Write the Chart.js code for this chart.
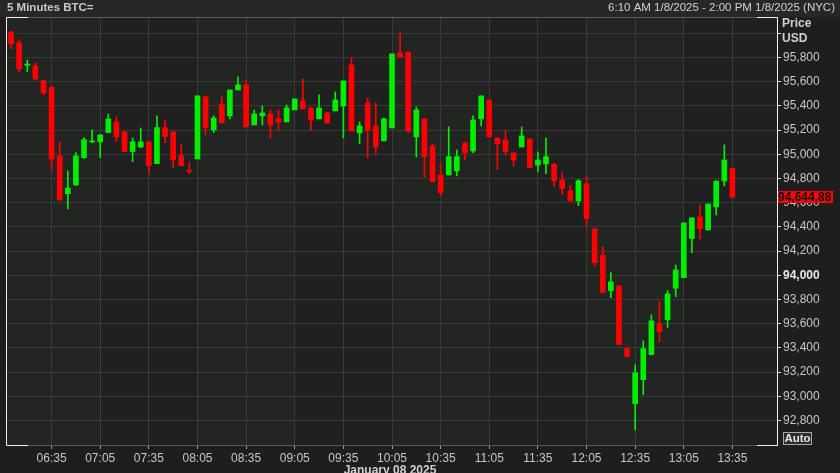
<!DOCTYPE html>
<html>
<head>
<meta charset="utf-8">
<title>5 Minutes BTC=</title>
<script src="https://cdn.jsdelivr.net/npm/chart.js@4.4.1/dist/chart.umd.min.js"></script>
<style>
  html, body { margin: 0; padding: 0; background: #1e1e1e; }
  canvas { display: block; }
</style>
</head>
<body>
<canvas id="btcChart" width="840" height="473"></canvas>
<script>
/*
*/
const startTime = '06:10';
const stepMinutes = 5;
const opens = [
  96008, 95922, 95735, 95730, 95606, 95554, 94986, 94674, 94746, 94972,
  95102, 95102, 95179, 95267, 95184, 95022, 95060, 95102, 94922, 95220,
  95184, 94989, 94868, 94961, 95474, 95201, 95416, 95317, 95531, 95573,
  95242, 95317, 95333, 95292, 95267, 95366, 95441, 95383, 95292, 95341,
  95358, 95399, 95738, 95176, 95424, 95234, 95110, 95217, 95837, 95845,
  95143, 95292, 95069, 94829, 94829, 94862, 95093, 95027, 95292, 95449,
  95135, 95118, 95011, 95060, 95127, 94911, 94920, 94917, 94788, 94697,
  94614, 94757, 94383, 94168, 93873, 93912, 93394, 92939, 93137, 93344,
  93598, 93633, 93893, 93980, 94303, 94482, 94374, 94564, 94779, 94884
];
const highs = [
  96015, 95945, 95779, 95755, 95612, 95560, 95102, 94862, 95013, 95137,
  95201, 95160, 95333, 95308, 95190, 95135, 95217, 95105, 95317, 95283,
  95190, 95085, 94931, 95482, 95480, 95317, 95482, 95531, 95639, 95614,
  95366, 95399, 95366, 95366, 95407, 95457, 95622, 95383, 95490, 95345,
  95515, 95606, 95796, 95267, 95465, 95424, 95300, 95829, 96002, 95845,
  95391, 95292, 95085, 94922, 95226, 95036, 95102, 95317, 95482, 95449,
  95135, 95193, 95011, 95226, 95127, 95019, 95135, 94926, 94848, 94746,
  94790, 94823, 94383, 94236, 94022, 93912, 93402, 93259, 93457, 93672,
  93782, 93873, 94085, 94432, 94474, 94581, 94589, 94779, 95077, 94884
];
const lows = [
  95870, 95683, 95683, 95614, 95490, 94876, 94620, 94548, 94740, 94965,
  95093, 94972, 95179, 95104, 95022, 94939, 95054, 94840, 94922, 95096,
  94889, 94906, 94840, 94961, 95160, 95179, 95259, 95292, 95531, 95226,
  95242, 95242, 95137, 95201, 95267, 95366, 95374, 95201, 95292, 95255,
  95358, 95135, 95193, 95085, 94969, 95003, 95110, 95217, 95804, 95176,
  94978, 94807, 94774, 94658, 94829, 94821, 94953, 95013, 95234, 95143,
  94876, 94994, 94898, 95060, 94889, 94854, 94840, 94732, 94664, 94614,
  94575, 94410, 94077, 93856, 93815, 93427, 93327, 92722, 93013, 93344,
  93451, 93567, 93823, 93980, 94187, 94300, 94374, 94498, 94738, 94641
];
const closes = [
  95914, 95705, 95745, 95622, 95506, 94961, 94622, 94721, 94986, 95121,
  95110, 95160, 95292, 95145, 95022, 95102, 95102, 94906, 95220, 95146,
  94953, 94906, 94860, 95482, 95220, 95300, 95259, 95531, 95573, 95226,
  95333, 95341, 95242, 95267, 95383, 95457, 95374, 95283, 95383, 95259,
  95449, 95606, 95193, 95234, 95201, 95060, 95292, 95829, 95804, 95193,
  95366, 94980, 94774, 94683, 94980, 94980, 95013, 95283, 95482, 95143,
  95085, 95022, 94953, 95151, 94889, 94953, 94980, 94782, 94716, 94614,
  94782, 94468, 94104, 93856, 93945, 93427, 93327, 93193, 93394, 93622,
  93534, 93846, 94044, 94432, 94474, 94383, 94589, 94779, 94953, 94644.88
];
const xTickLabels = ['06:35', '07:05', '07:35', '08:05', '08:35', '09:05', '09:35', '10:05',
                     '10:35', '11:05', '11:35', '12:05', '12:35', '13:05', '13:35'];
const yTickValues = [92800, 93000, 93200, 93400, 93600, 93800, 94000, 94200,
                     94400, 94600, 94800, 95000, 95200, 95400, 95600, 95800, 96000];
// hour-long shaded columns (start times)
const bandStarts = ['06:05', '08:05', '10:05', '12:05'];
const lastPrice = 94644.88;

const colors = {
  UP: '#00ee00',
  DOWN: '#ff0000',
  GRID: '#3a3a3a',
  TEXT: '#c6c6c6',
  PLOT: '#202020',
  BAND: '#232522'
};
const FONT = "'Liberation Sans', Arial, sans-serif";

function toMinutes(hhmm) {
  const parts = hhmm.split(':');
  return parseInt(parts[0], 10) * 60 + parseInt(parts[1], 10);
}
function minutesToLabel(m) {
  const h = Math.floor(m / 60), mm = m % 60;
  return (h < 10 ? '0' : '') + h + ':' + (mm < 10 ? '0' : '') + mm;
}

const startMin = toMinutes(startTime);
const times = opens.map((o, i) => startMin + i * stepMinutes);
const xTickMinutes = xTickLabels.map(toMinutes);
const candleColors = opens.map((o, i) => closes[i] >= o ? colors.UP : colors.DOWN);

const wickData = times.map((t, i) => ({x: t, y: [lows[i], highs[i]]}));
const bodyData = times.map((t, i) => ({x: t, y: [opens[i], closes[i]]}));

/*
*Frame, header texts and price tag drawn round the chart area
*/
const framePlugin = {
  id: 'frame',
  beforeDraw(chart) {
    const ctx = chart.ctx, a = chart.chartArea;
    const xScale = chart.scales.x;
    ctx.save();
    ctx.fillStyle = '#1e1e1e';
    ctx.fillRect(0, 0, chart.width, chart.height);
    ctx.fillStyle = '#272727';
    ctx.fillRect(0, 0, chart.width, a.top);
    ctx.fillStyle = colors.PLOT;
    ctx.fillRect(a.left, a.top, a.right - a.left, a.bottom - a.top);
    ctx.fillStyle = colors.BAND;
    bandStarts.forEach(s => {
      const x0 = Math.max(a.left, xScale.getPixelForValue(toMinutes(s)));
      const x1 = Math.min(a.right, xScale.getPixelForValue(toMinutes(s) + 60));
      ctx.fillRect(x0, a.top, x1 - x0, a.bottom - a.top);
    });
    ctx.restore();
  },
  afterDraw(chart) {
    const ctx = chart.ctx, a = chart.chartArea;
    const yScale = chart.scales.y;
    ctx.save();
    // top border
    ctx.strokeStyle = '#5a5a5a';
    ctx.lineWidth = 1;
    ctx.beginPath();
    ctx.moveTo(a.left, a.top + 0.5);
    ctx.lineTo(a.right, a.top + 0.5);
    ctx.stroke();
    // white corners
    ctx.strokeStyle = '#f0f0f0';
    ctx.beginPath();
    ctx.moveTo(a.left + 21, a.top + 0.5);
    ctx.lineTo(a.left - 0.5, a.top + 0.5);
    ctx.lineTo(a.left - 0.5, a.bottom + 0.5);
    ctx.lineTo(a.left + 21, a.bottom + 0.5);
    ctx.moveTo(a.right - 20, a.top + 0.5);
    ctx.lineTo(a.right + 0.5, a.top + 0.5);
    ctx.moveTo(a.right - 20, a.bottom + 0.5);
    ctx.lineTo(a.right + 0.5, a.bottom + 0.5);
    ctx.stroke();

    // header
    ctx.textBaseline = 'middle';
    ctx.fillStyle = '#c8c8c8';
    ctx.font = 'bold 11.5px ' + FONT;
    ctx.textAlign = 'left';
    ctx.fillText('5 Minutes BTC=', 7, 8);
    ctx.font = '11.5px ' + FONT;
    ctx.textAlign = 'right';
    ctx.fillStyle = '#d2d2d2';
    ctx.fillText('6:10 AM 1/8/2025 - 2:00 PM 1/8/2025 (NYC)', 835, 8);

    // axis title
    ctx.textAlign = 'left';
    ctx.font = 'bold 12px ' + FONT;
    ctx.fillStyle = '#cfcfcf';
    ctx.fillText('Price', 782, 24);
    ctx.fillText('USD', 782, 39);

    // Auto box
    ctx.fillStyle = '#2c2c2c';
    ctx.fillRect(783.5, 432.5, 28, 12);
    ctx.strokeStyle = '#a8a8a8';
    ctx.strokeRect(783.5, 432.5, 28, 12);
    ctx.fillStyle = '#e4e4e4';
    ctx.font = 'bold 11.5px ' + FONT;
    ctx.textAlign = 'center';
    ctx.fillText('Auto', 797.5, 439);

    // date under the time axis
    ctx.textBaseline = 'alphabetic';
    ctx.font = 'bold 12px ' + FONT;
    ctx.fillStyle = '#d0d0d0';
    ctx.fillText('January 08 2025', 390, 474);

    // last price tag
    const py = Math.round(yScale.getPixelForValue(lastPrice));
    ctx.fillStyle = '#ff0000';
    ctx.fillRect(a.right + 1, py - 6, 55, 12);
    ctx.fillStyle = '#000000';
    ctx.textAlign = 'left';
    ctx.textBaseline = 'middle';
    ctx.font = 'bold 12px ' + FONT;
    ctx.fillText(lastPrice.toLocaleString('en-US', {minimumFractionDigits: 2}), a.right + 1, py + 0.5);
    ctx.restore();
  }
};

function drawCandles() {
  const ctx = document.getElementById('btcChart').getContext('2d');
  new Chart(ctx, {
    type: 'bar',
    data: {
      datasets: [{
        label: 'wick',
        data: wickData,
        backgroundColor: candleColors,
        barThickness: 1,
        grouped: false,
        minBarLength: 1
      }, {
        label: 'body',
        data: bodyData,
        backgroundColor: candleColors,
        barThickness: 5,
        grouped: false,
        minBarLength: 1
      }]
    },
    options: {
      responsive: false,
      animation: false,
      layout: { padding: { left: 7, top: 17, right: 0, bottom: 0 } },
      plugins: { legend: { display: false }, tooltip: { enabled: false } },
      scales: {
        x: {
          type: 'linear',
          offset: false,
          min: startMin - 2.5,
          max: toMinutes('14:00') + 2.5,
          afterBuildTicks(scale) {
            scale.ticks = xTickMinutes.map(v => ({value: v}));
          },
          afterFit(scale) { scale.height = 28; },
          grid: { color: colors.GRID, offset: false, tickLength: 4, tickColor: '#9a9a9a' },
          border: { color: '#5a5a5a' },
          ticks: {
            autoSkip: false,
            maxRotation: 0,
            padding: 2,
            color: colors.TEXT,
            font: { family: FONT, size: 12 },
            callback: (value) => minutesToLabel(value)
          }
        },
        y: {
          position: 'right',
          min: 92597,
          max: 96134,
          afterBuildTicks(scale) {
            scale.ticks = yTickValues.map(v => ({value: v}));
          },
          afterFit(scale) { scale.width = 63; },
          grid: { color: colors.GRID, tickLength: 4, tickColor: '#e0e0e0' },
          border: { color: '#f0f0f0' },
          ticks: {
            padding: 2,
            color: (c) => c.tick && c.tick.value === 94000 ? '#e8e8e8' : colors.TEXT,
            font: (c) => ({family: FONT, size: 12, weight: c.tick && c.tick.value === 94000 ? 'bold' : 'normal'}),
            callback: (value) => value === 96000 ? '' : value.toLocaleString('en-US')
          }
        }
      }
    },
    plugins: [framePlugin]
  });
}

drawCandles();
</script>
</body>
</html>
